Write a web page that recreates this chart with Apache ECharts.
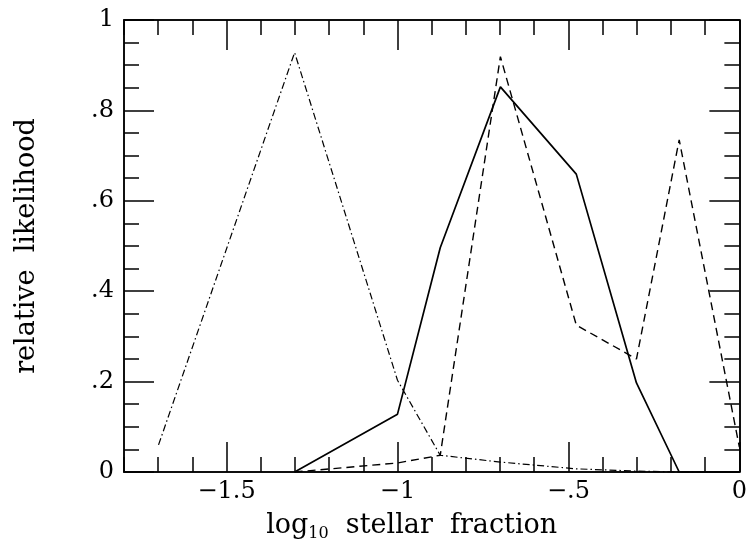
<!DOCTYPE html>
<html>
<head>
<meta charset="utf-8">
<script src="https://cdn.jsdelivr.net/npm/echarts@6/dist/echarts.min.js"></script>
<style>
  html, body { margin: 0; padding: 0; background: #fff; }
  #chart { width: 750px; height: 551px; }
</style>
</head>
<body>
<div id="chart"></div>
<script>
// log10 of stellar fractions 1/50, 1/20, 1/10, 2/15, 1/5, 1/3, 1/2, 2/3, 1
var logFrac = [-1.699, -1.301, -1.0, -0.875, -0.699, -0.477, -0.301, -0.176, 0];
var solidLike = [null, 0, 0.128, 0.496, 0.852, 0.659, 0.197, 0, 0];
var dashedLike = [null, 0, 0.02, 0.037, 0.919, 0.325, 0.25, 0.735, 0.055];
var dashDotLike = [0.06, 0.928, 0.203, 0.037, 0.022, 0.007, 0.002, 0, 0];
var xMajor = [-1.5, -1, -0.5, 0];
var yMajor = [0, 0.2, 0.4, 0.6, 0.8, 1];

var font = 'DejaVu Serif';

function pairs(ys) {
    return logFrac.map(function (x, i) { return [x, ys[i]]; });
}
function fmt(v) {
    if (v === 0) return '0';
    if (v === 1) return '1';
    var s = String(Math.abs(v)).replace(/^0/, '');
    return (v < 0 ? '\u2212' : '') + s;
}

function xAx(pos, major, withLabel) {
    var a = {
        type: 'value', position: pos, min: -1.8, max: 0, interval: 0.1,
        axisLine: { show: true, onZero: false, lineStyle: { color: '#000', width: 1.5 } },
        splitLine: { show: false },
        axisTick: { show: true, inside: true, length: major ? 30 : 15, lineStyle: { color: '#000', width: 1.5 } },
        axisLabel: { show: false }
    };
    if (major) a.axisTick.customValues = xMajor;
    if (withLabel) {
        a.axisLabel = {
            show: true, customValues: xMajor, margin: 8, color: '#000',
            fontFamily: font, fontSize: 24, formatter: fmt
        };
        a.name = '{a|log}{b|10}{a|  stellar  fraction}';
        a.nameLocation = 'middle';
        a.nameGap = 38;
        a.nameTextStyle = {
            padding: [0, 40, 0, 0],
            rich: {
                a: { fontFamily: font, fontSize: 27, color: '#000', lineHeight: 32 },
                b: { fontFamily: font, fontSize: 16, color: '#000', verticalAlign: 'bottom', lineHeight: 32 }
            }
        };
    }
    return a;
}
function yAx(pos, major, withLabel) {
    var a = {
        type: 'value', position: pos, min: 0, max: 1, interval: 0.05,
        axisLine: { show: true, onZero: false, lineStyle: { color: '#000', width: 1.5 } },
        splitLine: { show: false },
        axisTick: { show: true, inside: true, length: major ? 30 : 15, lineStyle: { color: '#000', width: 1.5 } },
        axisLabel: { show: false }
    };
    if (major) a.axisTick.customValues = yMajor;
    if (withLabel) {
        a.axisLabel = {
            show: true, customValues: yMajor, margin: 10, color: '#000',
            fontFamily: font, fontSize: 24, formatter: fmt
        };
        a.name = 'relative  likelihood';
        a.nameLocation = 'middle';
        a.nameGap = 84;
        a.nameTextStyle = { fontFamily: font, fontSize: 27, color: '#000' };
    }
    return a;
}

var chart = echarts.init(document.getElementById('chart'));
chart.setOption({
    animation: false,
    backgroundColor: '#fff',
    grid: { left: 124, right: 8, top: 20, bottom: 79, containLabel: false },
    xAxis: [xAx('bottom', false, false), xAx('bottom', true, true), xAx('top', false, false), xAx('top', true, false)],
    yAxis: [yAx('left', false, false), yAx('left', true, true), yAx('right', false, false), yAx('right', true, false)],
    series: [
        {
            name: 'solid', type: 'line', xAxisIndex: 0, yAxisIndex: 0,
            data: pairs(solidLike), showSymbol: false, clip: false,
            lineStyle: { color: '#000', width: 1.7, type: 'solid' }
        },
        {
            name: 'dashed', type: 'line', xAxisIndex: 0, yAxisIndex: 0,
            data: pairs(dashedLike), showSymbol: false, clip: false,
            lineStyle: { color: '#000', width: 1.4, type: [8, 5] }
        },
        {
            name: 'dashdot', type: 'line', xAxisIndex: 0, yAxisIndex: 0,
            data: pairs(dashDotLike), showSymbol: false, clip: false,
            lineStyle: { color: '#000', width: 1.2, type: [7, 3, 1.5, 3] }
        }
    ]
});
</script>
</body>
</html>
